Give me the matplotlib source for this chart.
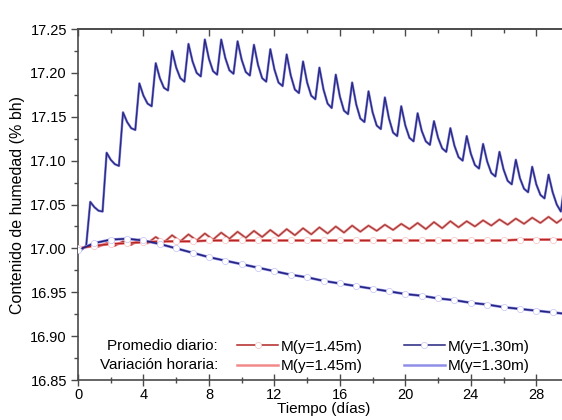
import numpy as np
import matplotlib
matplotlib.use("Agg")
import matplotlib.pyplot as plt
from matplotlib.lines import Line2D
from matplotlib.ticker import MultipleLocator, FormatStrFormatter

plt.rcParams['font.family'] = ['Liberation Sans', 'DejaVu Sans']

# Hourly series for y=1.30m, sampled every 6 h (4 values per day)
t_6h = np.arange(120) * 0.25
m130_hourly = [
    16.996, 16.999, 17.003, 17.053,
    17.047, 17.043, 17.042, 17.109,
    17.101, 17.096, 17.094, 17.155,
    17.144, 17.137, 17.135, 17.188,
    17.174, 17.165, 17.162, 17.211,
    17.194, 17.183, 17.180, 17.225,
    17.206, 17.194, 17.190, 17.233,
    17.213, 17.200, 17.196, 17.238,
    17.216, 17.202, 17.198, 17.238,
    17.217, 17.203, 17.199, 17.236,
    17.215, 17.201, 17.197, 17.232,
    17.209, 17.194, 17.190, 17.227,
    17.204, 17.189, 17.185, 17.221,
    17.197, 17.181, 17.177, 17.213,
    17.189, 17.174, 17.170, 17.206,
    17.181, 17.165, 17.160, 17.198,
    17.173, 17.157, 17.153, 17.189,
    17.164, 17.148, 17.144, 17.179,
    17.155, 17.140, 17.136, 17.172,
    17.148, 17.132, 17.128, 17.162,
    17.140, 17.126, 17.122, 17.154,
    17.134, 17.122, 17.118, 17.145,
    17.126, 17.114, 17.110, 17.137,
    17.117, 17.104, 17.100, 17.128,
    17.108, 17.095, 17.091, 17.119,
    17.099, 17.086, 17.082, 17.110,
    17.090, 17.077, 17.073, 17.101,
    17.080, 17.068, 17.064, 17.093,
    17.073, 17.061, 17.057, 17.084,
    17.064, 17.050, 17.042, 17.076,
]

# Hourly series for y=1.45m: start value, then trough / peak of each day
t_12h = np.r_[0.0, np.arange(0.25, 30, 0.5)]
m145_hourly = [
    17.000,
    17.000, 17.004, 17.002, 17.006, 17.003, 17.008, 17.004, 17.010,
    17.006, 17.013, 17.007, 17.015, 17.008, 17.016, 17.009, 17.017,
    17.010, 17.018, 17.011, 17.019, 17.012, 17.020, 17.013, 17.021,
    17.014, 17.022, 17.015, 17.023, 17.016, 17.024, 17.017, 17.025,
    17.018, 17.026, 17.019, 17.026, 17.020, 17.027, 17.021, 17.028,
    17.022, 17.029, 17.022, 17.030, 17.023, 17.031, 17.024, 17.031,
    17.025, 17.032, 17.026, 17.033, 17.027, 17.034, 17.028, 17.035,
    17.029, 17.036, 17.029, 17.036,
]

# Daily averages
days = np.arange(31)
m145_daily = [17.000, 17.003, 17.005, 17.006, 17.007, 17.008, 17.008, 17.008,
              17.009, 17.009, 17.009, 17.009, 17.009, 17.009, 17.009, 17.009,
              17.009, 17.009, 17.009, 17.009, 17.009, 17.009, 17.009, 17.009,
              17.009, 17.009, 17.009, 17.010, 17.010, 17.010, 17.010]
m130_daily = [16.998, 17.006, 17.010, 17.011, 17.009, 17.005, 17.000, 16.995,
              16.990, 16.986, 16.982, 16.978, 16.974, 16.970, 16.967, 16.963,
              16.960, 16.957, 16.954, 16.951, 16.948, 16.946, 16.943, 16.941,
              16.938, 16.936, 16.933, 16.931, 16.929, 16.927, 16.925]

dark_red, light_red = '#b32626', '#f28a8a'
dark_blue, light_blue = '#23237e', '#8e8ee6'

fig = plt.figure(figsize=(5.62, 4.20), dpi=100)
ax = fig.add_axes([0.1388, 0.0952, 0.8737, 0.8357])

# hourly curves: light line with a darker core
ax.plot(t_12h, m145_hourly, color=light_red, lw=1.8, zorder=2)
ax.plot(t_12h, m145_hourly, color='#9a3a3a', lw=0.8, zorder=3)
ax.plot(t_6h, m130_hourly, color=light_blue, lw=1.8, zorder=2)
ax.plot(t_6h, m130_hourly, color='#2a2a80', lw=1.0, zorder=3)

# daily averages with open markers
mk = dict(marker='o', ms=4.5, mfc='white', mew=0.5)
ax.plot(days, m145_daily, color=light_red, lw=2.0, zorder=4)
ax.plot(days, m145_daily, color=dark_red, lw=1.1, mec='#f6c0c0', zorder=5, **mk)
ax.plot(days, m130_daily, color=light_blue, lw=2.0, zorder=4)
ax.plot(days, m130_daily, color=dark_blue, lw=1.1, mec='#c4c4f4', zorder=5, **mk)

ax.set_xlim(0, 30)
ax.set_ylim(16.85, 17.25)
ax.xaxis.set_major_locator(MultipleLocator(4))
ax.xaxis.set_minor_locator(MultipleLocator(2))
ax.yaxis.set_major_locator(MultipleLocator(0.05))
ax.yaxis.set_minor_locator(MultipleLocator(0.025))
ax.yaxis.set_major_formatter(FormatStrFormatter('%.2f'))

frame = '#4a4a4a'
for side in ['left', 'bottom', 'top']:
    ax.spines[side].set_color(frame)
    ax.spines[side].set_linewidth(1.2)
ax.spines['right'].set_visible(False)

ax.tick_params(axis='y', which='major', direction='out', length=5, width=1,
               color=frame, labelsize=10.5, pad=3, right=False)
ax.tick_params(axis='y', which='minor', direction='out', length=3, width=1,
               color=frame, right=False)
ax.tick_params(axis='x', which='major', direction='inout', length=8, width=1,
               color=frame, labelsize=10.5, pad=2, top=False)
ax.tick_params(axis='x', which='minor', direction='inout', length=5, width=1,
               color=frame, top=False)

top = ax.secondary_xaxis('top')
top.xaxis.set_major_locator(MultipleLocator(4))
top.xaxis.set_minor_locator(MultipleLocator(2))
top.tick_params(which='major', direction='in', length=5, width=1,
                color=frame, labeltop=False)
top.tick_params(which='minor', direction='in', length=3, width=1, color=frame)
top.spines['top'].set_color(frame)
top.spines['top'].set_linewidth(1.2)

ax.set_xlabel('Tiempo (días)', fontsize=11, labelpad=0)
ax.set_ylabel('Contenido de humedad (% bh)', fontsize=11.5, labelpad=4)

handles = [
    Line2D([], [], color=dark_red, lw=1.1, mec='#f6c0c0', **mk),
    Line2D([], [], color=light_red, lw=1.8),
    Line2D([], [], color=dark_blue, lw=1.1, mec='#c4c4f4', **mk),
    Line2D([], [], color=light_blue, lw=1.8),
]
labels = ['M(y=1.45m)', 'M(y=1.45m)', 'M(y=1.30m)', 'M(y=1.30m)']
ax.legend(handles, labels, ncol=2, frameon=False, fontsize=11,
          loc='lower left', bbox_to_anchor=(0.324, 0.02),
          borderpad=0, borderaxespad=0, handlelength=2.7, numpoints=1,
          handletextpad=0.15, columnspacing=2.7, labelspacing=0.35)
ax.text(0.285, 0.098, 'Promedio diario:', transform=ax.transAxes,
        ha='right', va='center', fontsize=11)
ax.text(0.285, 0.042, 'Variación horaria:', transform=ax.transAxes,
        ha='right', va='center', fontsize=11)

fig.savefig('out.png', dpi=100)
